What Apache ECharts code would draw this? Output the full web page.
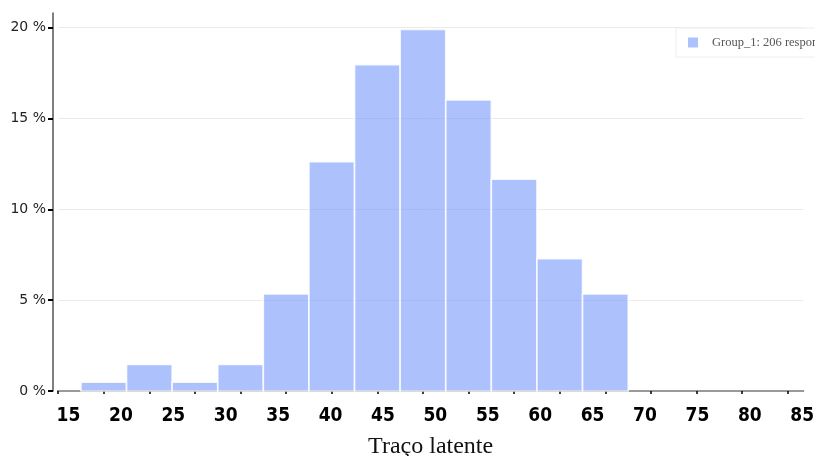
<!DOCTYPE html>
<html>
<head>
<meta charset="utf-8">
<script src="https://cdn.jsdelivr.net/npm/echarts@6/dist/echarts.min.js"></script>
<style>
html,body{margin:0;padding:0;background:#fff;}
#c{width:815px;height:456px;}
</style>
</head>
<body>
<div id="c"></div>
<script>
// Histogram bin edges (in "Traço latente" units)
const binEdges = [16.19, 20.54, 24.89, 29.24, 33.59, 37.94, 42.29, 46.64, 50.99, 55.34, 59.69, 64.04, 68.40];
// Percentage of respondents in each bin
const percents = [0.49, 1.46, 0.49, 1.46, 5.34, 12.62, 17.96, 19.90, 16.02, 11.65, 7.28, 5.34];
// X tick labels
const xLabels = [15, 20, 25, 30, 35, 40, 45, 50, 55, 60, 65, 70, 75, 80, 85];
// X tick marks (at bin centers)
const xTicks = [14.01, 18.36, 22.71, 27.07, 31.42, 35.77, 40.12, 44.47, 48.82, 53.17, 57.52, 61.87, 66.22, 70.57, 74.92, 79.27, 83.62];
// Y tick labels
const yLabels = [0, 5, 10, 15, 20];
const seriesName = 'Group_1: 206 respondents';

const data = percents.map((v, i) => [binEdges[i], binEdges[i + 1], v]);

const chart = echarts.init(document.getElementById('c'), null, {renderer: 'canvas'});
chart.setOption({
  animation: false,
  backgroundColor: '#fff',
  grid: {left: 58, right: 11.7, top: 13, bottom: 65, containLabel: false, outerBoundsMode: 'none'},
  legend: {
    left: 676, top: 28,
    padding: [8, 10, 8, 12],
    itemWidth: 10, itemHeight: 10, icon: 'rect',
    borderColor: '#eee', borderWidth: 1, backgroundColor: '#fff',
    textStyle: {fontFamily: 'Liberation Serif', fontSize: 12.5, color: '#555', padding: [0, 0, 0, 9]},
    data: [seriesName]
  },
  xAxis: [{
    type: 'value', min: 14, max: 85.1, offset: 5,
    axisLine: {show: true, lineStyle: {color: '#000', width: 1.5}},
    axisTick: {show: true, customValues: xTicks, length: 3, lineStyle: {color: '#000', width: 1.5}},
    axisLabel: {customValues: xLabels, margin: 11, fontFamily: '"Liberation Sans Narrow", "DejaVu Sans Condensed", sans-serif', fontWeight: 'bold', fontSize: 19, color: '#000'},
    splitLine: {show: false},
    name: 'Traço latente', nameLocation: 'middle', nameGap: 39,
    nameTextStyle: {fontFamily: 'Liberation Serif', fontSize: 24, color: '#111'}
  }, {
    type: 'value', min: 14, max: 85.1, position: 'bottom', offset: 0,
    axisLine: {show: true, lineStyle: {color: '#999', width: 2}},
    axisTick: {show: false}, axisLabel: {show: false}, splitLine: {show: false}
  }],
  yAxis: {
    type: 'value', min: 0, max: 20.8, offset: 5,
    axisLine: {show: true, lineStyle: {color: '#555', width: 1.5}},
    axisTick: {show: true, customValues: yLabels, length: 5, lineStyle: {color: '#000', width: 2}},
    axisLabel: {customValues: yLabels, formatter: '{value} %', margin: 7, fontFamily: 'DejaVu Sans', fontSize: 14, color: '#222'},
    splitLine: {show: true, lineStyle: {color: '#ebebeb', width: 1}}
  },
  series: [{
    name: seriesName,
    type: 'custom',
    xAxisIndex: 0,
    itemStyle: {color: '#adc2fc'},
    data: data,
    encode: {x: [0, 1], y: 2},
    renderItem: function (params, api) {
      const p0 = api.coord([api.value(0), api.value(2)]);
      const p1 = api.coord([api.value(1), 0]);
      return {
        type: 'rect',
        shape: {x: p0[0], y: p0[1], width: p1[0] - p0[0], height: p1[1] - p0[1]},
        style: {fill: 'rgba(118,153,250,0.6)', stroke: 'rgba(255,255,255,0.85)', lineWidth: 1.6}
      };
    }
  }]
});
</script>
</body>
</html>
